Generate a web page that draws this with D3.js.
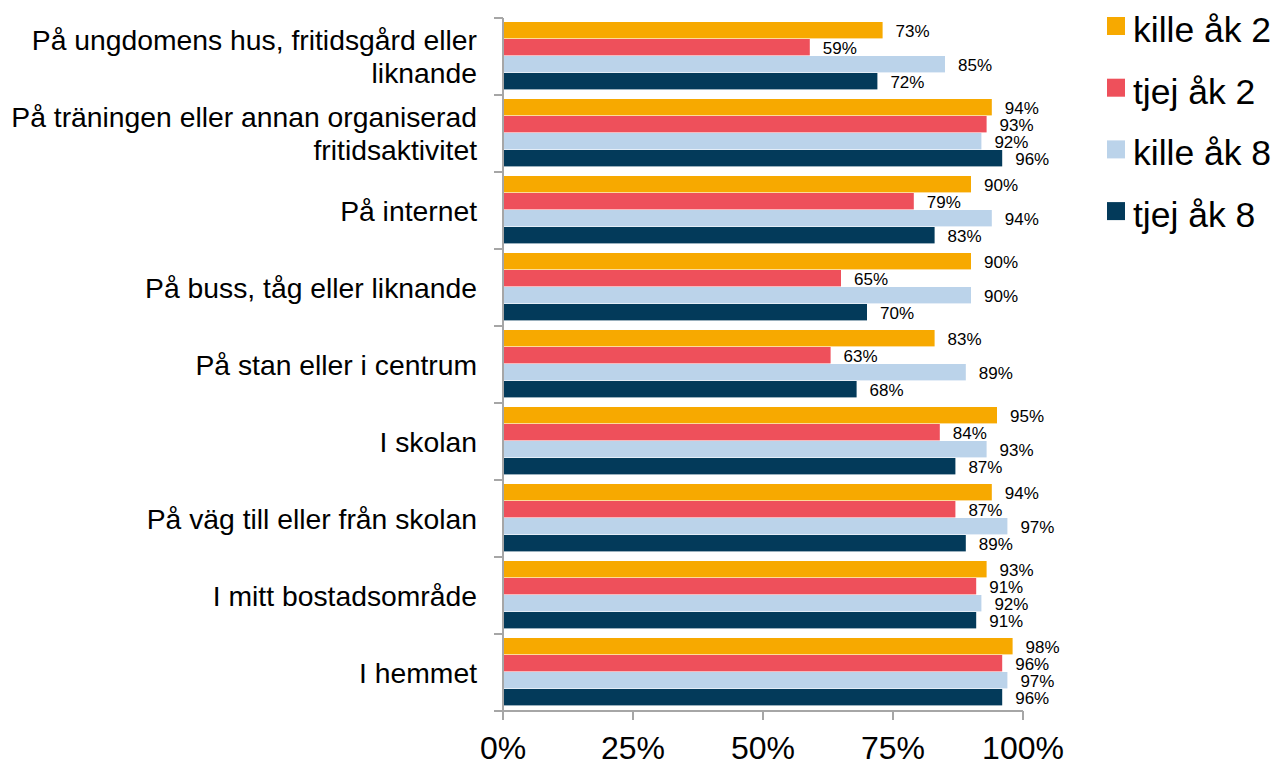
<!DOCTYPE html>
<html>
<head>
<meta charset="utf-8">
<script src="https://cdn.jsdelivr.net/npm/d3@7"></script>
<style>
  body { margin: 0; background: #fff; }
  svg { font-family: "Liberation Sans", Arial, sans-serif; }
</style>
</head>
<body>
<div id="chart-container"></div>
<script>
// categories (each entry = label lines)
var categories = [
  ["På ungdomens hus, fritidsgård eller", "liknande"],
  ["På träningen eller annan organiserad", "fritidsaktivitet"],
  ["På internet"],
  ["På buss, tåg eller liknande"],
  ["På stan eller i centrum"],
  ["I skolan"],
  ["På väg till eller från skolan"],
  ["I mitt bostadsområde"],
  ["I hemmet"]
];
var seriesNames = ["kille åk 2", "tjej åk 2", "kille åk 8", "tjej åk 8"];
var seriesColors = ["#F7A900", "#EE505B", "#BBD3EA", "#033A5A"];

// values in percent, one array per series, same order as categories
var killeAk2 = [73, 94, 90, 90, 83, 95, 94, 93, 98];
var tjejAk2  = [59, 93, 79, 65, 63, 84, 87, 91, 96];
var killeAk8 = [85, 92, 94, 90, 89, 93, 97, 92, 97];
var tjejAk8  = [72, 96, 83, 70, 68, 87, 89, 91, 96];
var seriesValues = [killeAk2, tjejAk2, killeAk8, tjejAk8];

var xTicks = [0, 25, 50, 75, 100];

var width = 1276, height = 765;
var plotLeft = 503, plotRight = 1023, plotTop = 18, plotBottom = 711;

var svg = d3.select("#chart-container")
  .append("svg")
  .attr("width", width)
  .attr("height", height);

var x = d3.scaleLinear().domain([0, 100]).range([plotLeft, plotRight]);

var y = d3.scaleBand()
  .domain(d3.range(categories.length))
  .range([plotTop, plotBottom])
  .padding(0);

var ySub = d3.scaleBand()
  .domain(d3.range(seriesNames.length))
  .range([4, y.bandwidth() - 5]);

// bars
seriesValues.forEach(function(vals, s) {
  var g = svg.append("g");
  g.selectAll("rect")
    .data(vals)
    .enter()
    .append("rect")
    .attr("x", x(0))
    .attr("y", (d, i) => y(i) + ySub(s))
    .attr("width", d => x(d) - x(0))
    .attr("height", ySub.bandwidth() - 0.6)
    .attr("fill", seriesColors[s]);

  g.selectAll("text")
    .data(vals)
    .enter()
    .append("text")
    .attr("x", d => x(d) + 13)
    .attr("y", (d, i) => y(i) + ySub(s) + ySub.bandwidth() / 2 + 1)
    .attr("dy", "0.35em")
    .style("font-size", "17px")
    .style("fill", "#000")
    .text(d => d + "%");
});

// y axis
var axisColor = "#A6A6A6";
svg.append("line")
  .attr("x1", plotLeft).attr("x2", plotLeft)
  .attr("y1", plotTop).attr("y2", plotBottom + 9)
  .attr("stroke", axisColor).attr("stroke-width", 2);

var yTickPos = d3.range(categories.length + 1).map(i => plotTop + i * y.bandwidth());
svg.selectAll(".ytick")
  .data(yTickPos)
  .enter()
  .append("line")
  .attr("x1", plotLeft - 9).attr("x2", plotLeft)
  .attr("y1", d => d).attr("y2", d => d)
  .attr("stroke", axisColor).attr("stroke-width", 2);

// category labels
var lineGap = 33;
categories.forEach(function(lines, i) {
  var cy = y(i) + y.bandwidth() / 2;
  var t = svg.append("text")
    .attr("text-anchor", "end")
    .style("font-size", "28.3px")
    .style("fill", "#000");
  lines.forEach(function(line, j) {
    t.append("tspan")
      .attr("x", plotLeft - 26)
      .attr("y", cy + (j - (lines.length - 1) / 2) * lineGap)
      .attr("dy", "0.36em")
      .text(line);
  });
});

// x axis
svg.append("line")
  .attr("x1", plotLeft - 9).attr("x2", plotRight)
  .attr("y1", plotBottom).attr("y2", plotBottom)
  .attr("stroke", axisColor).attr("stroke-width", 2);

svg.selectAll(".xtick")
  .data(xTicks)
  .enter()
  .append("line")
  .attr("x1", d => x(d)).attr("x2", d => x(d))
  .attr("y1", plotBottom).attr("y2", plotBottom + 9)
  .attr("stroke", axisColor).attr("stroke-width", 2);

svg.selectAll(".xlabel")
  .data(xTicks)
  .enter()
  .append("text")
  .attr("x", d => x(d))
  .attr("y", 759)
  .attr("text-anchor", "middle")
  .style("font-size", "32px")
  .style("fill", "#000")
  .text(d => d + "%");

// legend
var legend = svg.append("g");
seriesNames.forEach(function(name, s) {
  var ly = 17 + s * 61.7;
  legend.append("rect")
    .attr("x", 1107).attr("y", ly)
    .attr("width", 18).attr("height", 18)
    .attr("fill", seriesColors[s]);
  legend.append("text")
    .attr("x", 1133).attr("y", ly + 25)
    .style("font-size", "35.5px")
    .style("fill", "#000")
    .text(name);
});
</script>
</body>
</html>
